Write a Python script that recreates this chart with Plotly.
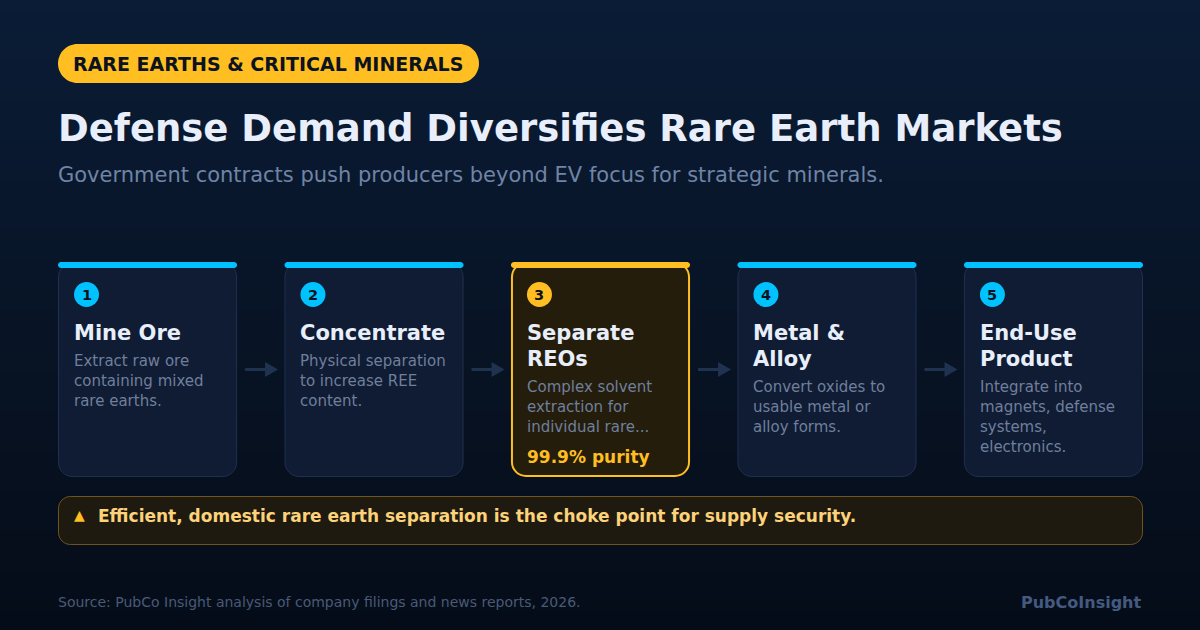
import plotly.graph_objects as go

W, H = 1200, 630
FONT = "DejaVu Sans"
AMBER = "#ffbe21"
CYAN = "#00c2ff"
ARROW = "#1f3250"

badge_text = "RARE EARTHS &amp; CRITICAL MINERALS"
title_text = "Defense Demand Diversifies Rare Earth Markets"
subtitle_text = "Government contracts push producers beyond EV focus for strategic minerals."
step_numbers = ["1", "2", "3", "4", "5"]
step_titles = [["Mine Ore"], ["Concentrate"], ["Separate", "REOs"], ["Metal &amp;", "Alloy"], ["End-Use", "Product"]]
step_descriptions = [
    ["Extract raw ore", "containing mixed", "rare earths."],
    ["Physical separation", "to increase REE", "content."],
    ["Complex solvent", "extraction for", "individual rare..."],
    ["Convert oxides to", "usable metal or", "alloy forms."],
    ["Integrate into", "magnets, defense", "systems,", "electronics."],
]
step_metrics = ["", "", "99.9% purity", "", ""]
highlight_step = 2
callout_icon = "▲"
callout_text = "Efficient, domestic rare earth separation is the choke point for supply security."
source_text = "Source: PubCo Insight analysis of company filings and news reports, 2026."
brand_text = "PubCoInsight"


def rrect(x0, y0, x1, y1, r):
    k = r * 0.4477
    return (f"M{x0+r},{y0} L{x1-r},{y0} C{x1-k},{y0} {x1},{y0+k} {x1},{y0+r} "
            f"L{x1},{y1-r} C{x1},{y1-k} {x1-k},{y1} {x1-r},{y1} "
            f"L{x0+r},{y1} C{x0+k},{y1} {x0},{y1-k} {x0},{y1-r} "
            f"L{x0},{y0+r} C{x0},{y0+k} {x0+k},{y0} {x0+r},{y0} Z")


shapes, annotations = [], []


def shape_path(path, fill, line=None, width=0):
    shapes.append(dict(type="path", path=path, fillcolor=fill, layer="below",
                       line=dict(color=line or fill, width=width)))


def text(x, y, s, size, color, bold=False, anchor="left"):
    annotations.append(dict(x=x, y=y, xref="x", yref="y", text=f"<b>{s}</b>" if bold else s,
                            showarrow=False, xanchor=anchor, yanchor="middle", borderpad=0, borderwidth=0,
                            font=dict(family=FONT, size=size, color=color)))


# background gradient as stacked bands
stops = [(0, (10, 28, 54)), (0.5, (8, 20, 38)), (1, (5, 12, 24))]
bands = 63
for i in range(bands):
    t = (i + 0.5) / bands
    if t < 0.5:
        a, b, u = stops[0][1], stops[1][1], t / 0.5
    else:
        a, b, u = stops[1][1], stops[2][1], (t - 0.5) / 0.5
    c = tuple(round(a[k] + (b[k] - a[k]) * u) for k in range(3))
    shapes.append(dict(type="rect", x0=0, x1=W, y0=i * H / bands, y1=(i + 1) * H / bands + 0.5,
                       fillcolor=f"rgb{c}", line=dict(width=0), layer="below"))

# header
shape_path(rrect(58, 44, 479, 83, 19.5), AMBER)
text(73, 63.5, badge_text, 19, "#0b1220", True)
text(58, 128.5, title_text, 37, "#e8eefa", True)
text(58, 175, subtitle_text, 21, "#6f84a6")

# cards
left, right, gap_w = 58, 1143, 47.4
card_w = (right - left - 4 * gap_w) / 5
top, bottom = 262, 477
for i in range(5):
    x0 = left + i * (card_w + gap_w)
    x1 = x0 + card_w
    hi = i == highlight_step
    accent = AMBER if hi else CYAN
    inset = 1 if hi else 0.5
    shape_path(rrect(x0 + inset, top + 1, x1 - inset, bottom - inset, 14),
               "#241d0c" if hi else "#0f1c33", AMBER if hi else "#1f3150", 2 if hi else 1)
    shape_path(rrect(x0, top, x1, top + 6, 3), accent)
    tx = x0 + 16
    shapes.append(dict(type="circle", x0=tx, x1=tx + 25, y0=282, y1=307, fillcolor=accent,
                       line=dict(width=0), layer="below"))
    text(tx + 12.5, 294.8, step_numbers[i], 14.5, "#0b1220", True, "center")
    y = 333
    for ln in step_titles[i]:
        text(tx, y, ln, 21, "#e8eefa", True)
        y += 26
    y += -26 + 28
    for ln in step_descriptions[i]:
        text(tx, y, ln, 15, "#6f7f9c")
        y += 20
    if step_metrics[i]:
        text(tx, 457, step_metrics[i], 17, AMBER, True)
    if i < 4:
        ax = x1 + 8
        shapes.append(dict(type="line", x0=ax, x1=ax + 22, y0=369.5, y1=369.5,
                           line=dict(color=ARROW, width=3), layer="below"))
        shape_path(f"M{ax+20},362 L{ax+33},369.5 L{ax+20},377 Z", ARROW)

# callout
shape_path(rrect(58.5, 496.5, 1142.5, 544.5, 12), "#1e1a10", "#6f5420", 1)
text(74, 515, callout_icon, 14, AMBER)
text(98, 516, callout_text, 17, "#fcd27a", True)

# footer
text(58, 602, source_text, 14, "#4a5a78")
text(1142, 602, brand_text, 16, "#445a80", True, "right")

fig = go.Figure()
fig.update_layout(
    width=W, height=H, margin=dict(l=0, r=0, t=0, b=0), paper_bgcolor="#060e1c", plot_bgcolor="rgba(0,0,0,0)",
    showlegend=False, shapes=shapes, annotations=annotations,
    xaxis=dict(range=[0, W], visible=False, fixedrange=True),
    yaxis=dict(range=[H, 0], visible=False, fixedrange=True),
)
page_fix = (
    "document.body.style.margin='0';document.body.style.background='#060e1c';"
    "var s=document.createElement('style');"
    "s.textContent='svg text{text-rendering:auto !important}';"
    "document.head.appendChild(s);"
)
fig.write_html("out.html", config={"displayModeBar": False}, post_script=page_fix)
